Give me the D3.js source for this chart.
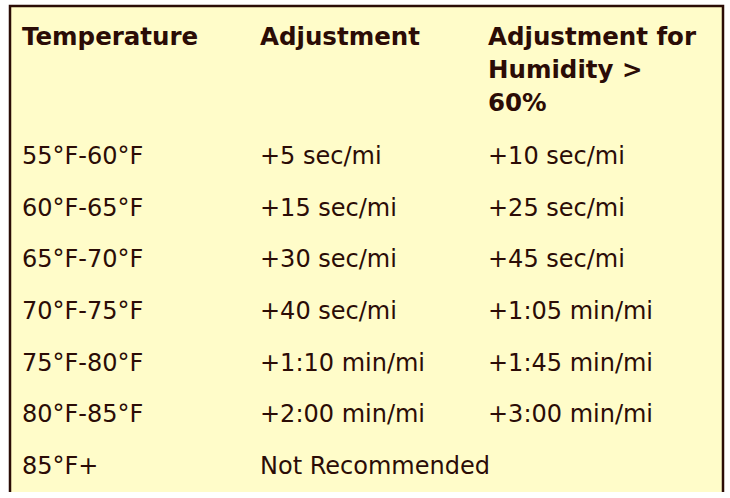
<!DOCTYPE html>
<html><head><meta charset="utf-8">
<script src="https://cdn.jsdelivr.net/npm/d3@7"></script>
<style>body{margin:0;background:#fff}</style>
</head><body><svg></svg>
<script>
const headers = [["Temperature"], ["Adjustment"], ["Adjustment for", "Humidity >", "60%"]];
const temps = ["55°F-60°F", "60°F-65°F", "65°F-70°F", "70°F-75°F", "75°F-80°F", "80°F-85°F", "85°F+"];
const adjust = ["+5 sec/mi", "+15 sec/mi", "+30 sec/mi", "+40 sec/mi", "+1:10 min/mi", "+2:00 min/mi", "Not Recommended"];
const humid = ["+10 sec/mi", "+25 sec/mi", "+45 sec/mi", "+1:05 min/mi", "+1:45 min/mi", "+3:00 min/mi", ""];

const svg = d3.select("svg").attr("width", 730).attr("height", 498);
const ink = "#2b0c06";

// panel: border on top, left, right only
svg.append("rect").attr("x", 10).attr("y", 6).attr("width", 713).attr("height", 486).attr("fill", "#fffcc9");
svg.append("path").attr("d", "M10,492V6H723V492").attr("fill", "none").attr("stroke", ink).attr("stroke-width", 2.5);

const x = d3.scaleOrdinal().domain([0, 1, 2]).range([22, 260, 488]);
const y = d3.scaleLinear().domain([0, 6]).range([164, 474]);

const font = "'DejaVu Sans', Verdana, sans-serif";

headers.forEach((lines, c) => {
    lines.forEach((t, i) => {
        svg.append("text").attr("x", x(c)).attr("y", 45 + i * 33)
            .attr("font-family", font).attr("font-weight", "bold").attr("font-size", 24.5)
            .attr("fill", ink).text(t);
    });
});

[temps, adjust, humid].forEach((col, c) => {
    svg.selectAll(null).data(col).join("text")
        .attr("x", x(c)).attr("y", (d, i) => y(i))
        .attr("font-family", font).attr("font-size", 24).attr("fill", ink)
        .text(d => d);
});
</script></body></html>
